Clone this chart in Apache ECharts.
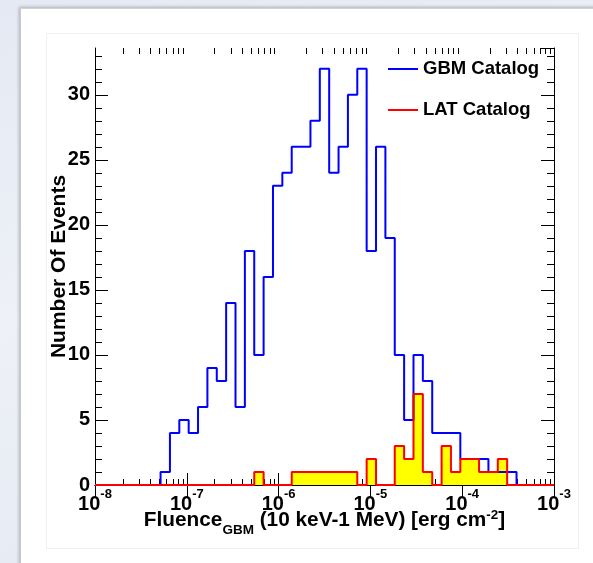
<!DOCTYPE html>
<html>
<head>
<meta charset="utf-8">
<script src="https://cdn.jsdelivr.net/npm/echarts@6/dist/echarts.min.js"></script>
<style>
  html, body { margin: 0; padding: 0; }
  body {
    width: 593px; height: 563px; overflow: hidden; position: relative;
    background: linear-gradient(165deg, #e4e9f3 0%, #eef1f7 45%, #e2e7f1 100%);
  }
  #panel {
    position: absolute; left: 20px; top: 8px; width: 640px; height: 620px;
    background: #ffffff;
    border-left: 1px solid #c9c9c9; border-top: 1px solid #d2d2d2;
    box-shadow: -1px -1px 3px rgba(0, 0, 0, 0.25);
  }
  #pad {
    position: absolute; left: 46px; top: 33px; width: 531px; height: 514px;
    background: #ffffff; border: 1px solid #eef0f4;
  }
  #chart { position: absolute; left: 0; top: 0; width: 593px; height: 563px; }
</style>
</head>
<body>
<div id="panel"></div>
<div id="pad"></div>
<div id="chart"></div>
<script>
// Burst fluence histogram: 49 logarithmic bins between 1e-8 and 1e-3 erg cm^-2
const fluenceMin = 1e-8;
const fluenceMax = 1e-3;
const binCount = 49;

// Counts per bin, lowest fluence first
const gbmCounts = [
  0, 0, 0, 0, 0, 0, 0, 1, 4, 5,
  4, 6, 9, 8, 14, 6, 18, 10, 16, 23,
  24, 26, 26, 28, 32, 24, 26, 30, 32, 18,
  26, 19, 10, 5, 10, 8, 4, 4, 4, 2,
  2, 2, 1, 1, 1, 0, 0, 0, 0
];
const latCounts = [
  0, 0, 0, 0, 0, 0, 0, 0, 0, 0,
  0, 0, 0, 0, 0, 0, 0, 1, 0, 0,
  0, 1, 1, 1, 1, 1, 1, 1, 0, 2,
  0, 0, 3, 2, 7, 1, 0, 3, 1, 2,
  2, 1, 1, 2, 0, 0, 0, 0, 0
];

const seriesNames = ['GBM Catalog', 'LAT Catalog'];
const xTickExponents = ['-8', '-7', '-6', '-5', '-4', '-3'];
const yMax = 33.6;

const FONT = '"Liberation Sans", Arial, Helvetica, sans-serif';

// bin edges (log-uniform)
const lgMin = Math.log10(fluenceMin), lgMax = Math.log10(fluenceMax);
const binEdges = [];
for (let i = 0; i <= binCount; i++) {
  binEdges.push(Math.pow(10, lgMin + (lgMax - lgMin) * i / binCount));
}

// step outline points: each bin contributes its left edge, the last bin closes at the right edge
function stepPoints(counts) {
  const pts = counts.map((c, i) => [binEdges[i], c]);
  pts.push([binEdges[binCount], counts[binCount - 1]]);
  return pts;
}

// minor ticks: 2..9 within every decade, and every unit on the count axis
const xMinorTicks = [];
for (let e = Math.round(lgMin); e < Math.round(lgMax); e++) {
  for (let m = 2; m <= 9; m++) xMinorTicks.push(m * Math.pow(10, e));
}
const yMinorTicks = [];
for (let v = 1; v < yMax; v++) if (v % 5 !== 0) yMinorTicks.push(v);

const chart = echarts.init(document.getElementById('chart'), null, { renderer: 'canvas' });

const axisLineStyle = { color: '#000', width: 1 };
const supRich = {
  b: { fontFamily: FONT, fontWeight: 'bold', fontSize: 20, color: '#000', height: 20, padding: [6, 0, 0, 0], verticalAlign: 'top' },
  s: { fontFamily: FONT, fontWeight: 'bold', fontSize: 13, color: '#000', height: 13, padding: [0, 0, 0, 0], verticalAlign: 'top' }
};

function crisp(v) { return Math.round(v) + 0.5; }

chart.setOption({
  animation: false,
  backgroundColor: 'transparent',
  grid: { left: 95, right: 39, top: 48, bottom: 78, containLabel: false },
  legend: {
    orient: 'vertical', left: 388, top: 58, padding: 0,
    itemWidth: 30, itemHeight: 2, itemGap: 19, icon: 'rect',
    selectedMode: false,
    textStyle: { fontFamily: FONT, fontWeight: 'bold', fontSize: 18.5, color: '#000', lineHeight: 22 },
    data: [
      { name: seriesNames[0], itemStyle: { color: '#0000ff', borderWidth: 0 } },
      { name: seriesNames[1], itemStyle: { color: '#ff0000', borderWidth: 0 } }
    ]
  },
  xAxis: [
    {
      type: 'log', logBase: 10, min: fluenceMin, max: fluenceMax, position: 'bottom',
      axisLine: { show: true, lineStyle: axisLineStyle },
      axisTick: { show: true, inside: true, length: 12, lineStyle: axisLineStyle },
      splitLine: { show: false },
      axisLabel: {
        margin: 3,
        formatter: v => '{b|10}{s|' + xTickExponents[Math.round(Math.log10(v) - lgMin)] + '}',
        rich: supRich
      },
      name: '{m|Fluence}{sub|GBM}{m| (10 keV-1 MeV) [erg cm}{sup|-2}{m|]}',
      nameLocation: 'middle', nameGap: 22, nameMoveOverlap: false,
      nameTextStyle: {
        rich: {
          m: { fontFamily: FONT, fontWeight: 'bold', fontSize: 20.8, color: '#000', height: 21, padding: [3, 0, 0, 0], verticalAlign: 'top' },
          sub: { fontFamily: FONT, fontWeight: 'bold', fontSize: 13.5, color: '#000', height: 13, padding: [17, 0, 0, 0], verticalAlign: 'top' },
          sup: { fontFamily: FONT, fontWeight: 'bold', fontSize: 13.5, color: '#000', height: 13, padding: [2, 0, 0, 0], verticalAlign: 'top' }
        }
      }
    },
    {
      type: 'log', logBase: 10, min: fluenceMin, max: fluenceMax, position: 'top',
      axisLine: { show: true, lineStyle: axisLineStyle },
      axisTick: { show: true, inside: true, length: 12, lineStyle: axisLineStyle },
      axisLabel: { show: false },
      splitLine: { show: false }
    }
  ],
  yAxis: [
    {
      type: 'value', min: 0, max: yMax, interval: 5, position: 'left',
      axisLine: { show: true, lineStyle: axisLineStyle },
      axisTick: { show: true, inside: true, length: 13, lineStyle: axisLineStyle },
      splitLine: { show: false },
      axisLabel: {
        margin: 5, showMaxLabel: false,
        fontFamily: FONT, fontWeight: 'bold', fontSize: 20, color: '#000'
      },
      name: 'Number Of Events', nameLocation: 'middle', nameGap: 25, nameMoveOverlap: false,
      nameTextStyle: { fontFamily: FONT, fontWeight: 'bold', fontSize: 21, color: '#000' }
    },
    {
      type: 'value', min: 0, max: yMax, interval: 5, position: 'right',
      axisLine: { show: true, lineStyle: axisLineStyle },
      axisTick: { show: true, inside: true, length: 13, lineStyle: axisLineStyle },
      splitLine: { show: false },
      axisLabel: { show: false }
    }
  ],
  series: [
    {
      // minor ticks on the log axes (top and bottom)
      type: 'custom', coordinateSystem: 'cartesian2d', silent: true,
      data: xMinorTicks.map(v => [v, 0]),
      renderItem: (params, api) => {
        const cs = params.coordSys;
        const x = crisp(api.coord([api.value(0), 0])[0]);
        const yb = cs.y + cs.height, yt = cs.y;
        return {
          type: 'group',
          children: [
            { type: 'line', shape: { x1: x, y1: yb, x2: x, y2: yb - 6 }, style: { stroke: '#000', lineWidth: 1 } },
            { type: 'line', shape: { x1: x, y1: yt, x2: x, y2: yt + 6 }, style: { stroke: '#000', lineWidth: 1 } }
          ]
        };
      }
    },
    {
      // minor ticks on the count axes (left and right)
      type: 'custom', coordinateSystem: 'cartesian2d', silent: true,
      data: yMinorTicks.map(v => [fluenceMin, v]),
      renderItem: (params, api) => {
        const cs = params.coordSys;
        const y = crisp(api.coord([fluenceMin, api.value(1)])[1]);
        const xl = cs.x, xr = cs.x + cs.width;
        return {
          type: 'group',
          children: [
            { type: 'line', shape: { x1: xl, y1: y, x2: xl + 7, y2: y }, style: { stroke: '#000', lineWidth: 1 } },
            { type: 'line', shape: { x1: xr, y1: y, x2: xr - 7, y2: y }, style: { stroke: '#000', lineWidth: 1 } }
          ]
        };
      }
    },
    {
      name: seriesNames[0], type: 'line', step: 'end',
      data: stepPoints(gbmCounts),
      symbol: 'none', showSymbol: false, clip: false,
      color: '#0000ff',
      lineStyle: { color: '#0000ff', width: 2 }
    },
    {
      name: seriesNames[1], type: 'line', step: 'end',
      data: stepPoints(latCounts),
      symbol: 'none', showSymbol: false, clip: false,
      color: '#ff0000',
      lineStyle: { color: '#ff0000', width: 2 },
      areaStyle: { color: '#ffff00', opacity: 1 }
    }
  ]
});
</script>
</body>
</html>
